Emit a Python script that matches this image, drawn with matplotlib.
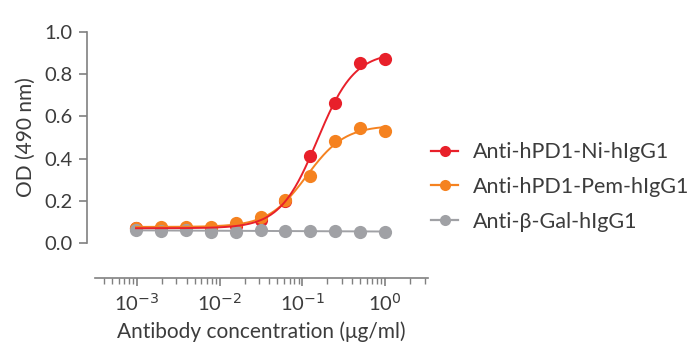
import numpy as np
import matplotlib.pyplot as plt
from matplotlib.ticker import LogLocator, FixedLocator

# Data (two-fold dilution series, ug/ml)
conc = [1.0, 0.5, 0.25, 0.125, 0.0625, 0.03125, 0.015625, 0.0078125,
        0.00390625, 0.001953125, 0.0009765625]
od_ni = [0.870, 0.851, 0.662, 0.414, 0.200, 0.109, 0.080, 0.072, 0.070, 0.070, 0.070]
od_pem = [0.531, 0.547, 0.485, 0.318, 0.204, 0.125, 0.096, 0.074, 0.074, 0.074, 0.073]
od_gal = [0.054, 0.054, 0.057, 0.057, 0.058, 0.063, 0.051, 0.051, 0.063, 0.058, 0.063]

labels = ['Anti-hPD1-Ni-hIgG1', 'Anti-hPD1-Pem-hIgG1', 'Anti-\u03b2-Gal-hIgG1']
colors = ['#e8202a', '#f58220', '#a0a1a5']
text_color = '#3c3c3c'
axis_color = '#808080'


def fit_4pl(x, y):
    # grid search on ec50 / hill, linear least squares for bottom / top
    x = np.asarray(x)
    y = np.asarray(y)
    best = None
    for lec in np.linspace(-3, 0.5, 351):
        for h in np.linspace(0.5, 4, 141):
            s = 1.0 / (1.0 + (10 ** lec / x) ** h)
            A = np.column_stack([np.ones_like(s), s])
            coef, *_ = np.linalg.lstsq(A, y, rcond=None)
            err = np.sum((A @ coef - y) ** 2)
            if best is None or err < best[0]:
                best = (err, coef, lec, h)
    _, (b, d), lec, h = best
    return lambda xx: b + d / (1.0 + (10 ** lec / xx) ** h)


plt.rcParams['font.family'] = ['Lato', 'DejaVu Sans']

fig = plt.figure(figsize=(7, 3.6), dpi=100)
ax = fig.add_axes([95 / 700, 1 - 243 / 360, 333 / 700, 211 / 360])

xs = np.logspace(np.log10(min(conc)), np.log10(max(conc)), 300)

# markers first (red, orange, gray), then the fitted lines on top
for od, c, z in zip([od_ni, od_pem, od_gal], colors, [3, 4, 5]):
    ax.plot(conc, od, 'o', color=c, ms=9.5, mec='none', zorder=z)

p = np.polyfit(np.log10(conc), od_gal, 1)
ax.plot(xs, np.polyval(p, np.log10(xs)), color=colors[2], lw=1.4, zorder=6)
ax.plot(xs, fit_4pl(conc, od_pem)(xs), color=colors[1], lw=1.4, zorder=7)
ax.plot(xs, fit_4pl(conc, od_ni)(xs), color=colors[0], lw=1.4, zorder=8)

handles = []
for lab, c in zip(labels, colors):
    h, = ax.plot([], [], '-o', color=c, lw=1.6, ms=8, mec='none', label=lab)
    handles.append(h)

ax.set_xscale('log')
ax.set_xlim(10 ** -3.506, 10 ** 0.518)
ax.set_ylim(0, 1.0)
ax.set_yticks([0, 0.2, 0.4, 0.6, 0.8, 1.0])
ax.set_yticklabels(['0.0', '0.2', '0.4', '0.6', '0.8', '1.0'])
ax.xaxis.set_major_locator(FixedLocator([1e-3, 1e-2, 1e-1, 1e0]))
ax.xaxis.set_minor_locator(LogLocator(base=10, subs=np.arange(2, 10), numticks=20))
ax.set_xticklabels(['10$^{-3}$', '10$^{-2}$', '10$^{-1}$', '10$^{0}$'])

for s in ['top', 'right']:
    ax.spines[s].set_visible(False)
ax.spines['bottom'].set_position(('outward', 25))
ax.spines['left'].set_position(('outward', 6))
for s in ['bottom', 'left']:
    ax.spines[s].set_color(axis_color)
    ax.spines[s].set_linewidth(1.2)

ax.tick_params(axis='both', which='major', length=6, width=1.2, color=axis_color,
               labelsize=14.5, labelcolor=text_color, pad=4)
ax.tick_params(axis='x', which='minor', length=4, width=1.0, color=axis_color)
ax.set_ylabel('OD (490 nm)', fontsize=15, color=text_color, labelpad=6)
ax.set_xlabel('Antibody concentration (\u03bcg/ml)', fontsize=15, color=text_color, labelpad=6)

fig.legend(handles=handles, loc='center left', bbox_to_anchor=(412 / 700, 1 - 187 / 360),
           frameon=False, fontsize=15.5, labelcolor=text_color, handlelength=1.25,
           handletextpad=0.7, labelspacing=0.68)

fig.savefig('out.png', dpi=100)
